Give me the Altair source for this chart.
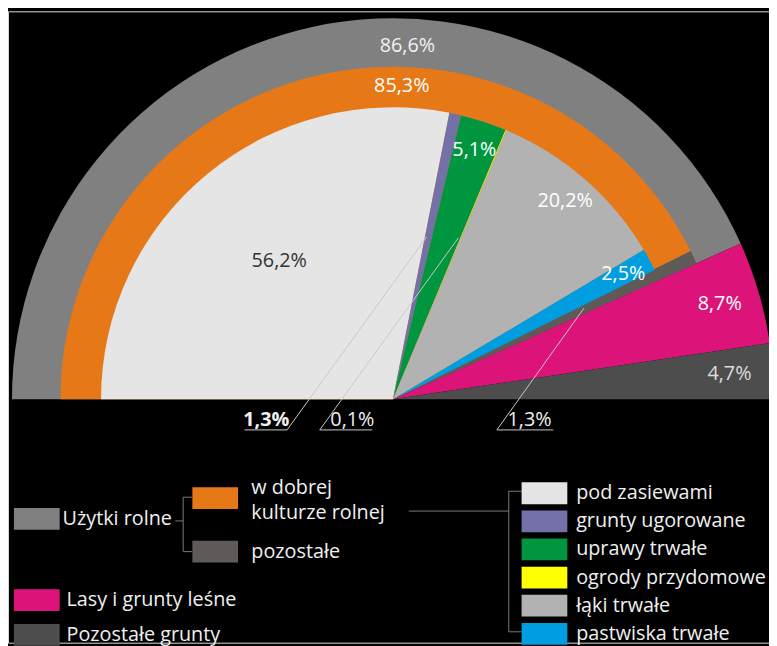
import math
import altair as alt
import pandas as pd

# ---------------- data ----------------
outer_names = ["Użytki rolne", "Lasy i grunty leśne", "Pozostałe grunty"]
outer_values = [86.6, 8.7, 4.7]
outer_colors = ["#808080", "#dc1379", "#4d4d4d"]

middle_names = ["w dobrej kulturze rolnej", "pozostałe"]
middle_values = [85.3, 1.3]
middle_colors = ["#e67817", "#5f5957"]

inner_names = ["pod zasiewami", "grunty ugorowane", "uprawy trwałe",
               "ogrody przydomowe", "łąki trwałe", "pastwiska trwałe"]
inner_values = [56.2, 1.3, 5.1, 0.1, 20.2, 2.5]
inner_colors = ["#e5e5e5", "#7470a8", "#009640", "#ffff00", "#b2b2b2", "#009de0"]

outer_df = pd.DataFrame({"name": outer_names, "value": outer_values, "idx": range(3)})
middle_df = pd.DataFrame({"name": middle_names, "value": middle_values, "idx": range(2)})
inner_df = pd.DataFrame({"name": inner_names, "value": inner_values, "idx": range(6)})

FONT = "Open Sans"
CX, CY = 389, 392          # pie centre (chart coords)
R_OUT, R_MID, R_IN = 385, 336, 295

theta_scale = alt.Scale(domain=[0, 100], range=[-math.pi / 2, math.pi / 2])
LABEL_EXPR = "replace(format(datum.value, '.1f'), '.', ',') + '%'"
SYMBOL = "M-2.1,-1H2.1V1H-2.1Z"


def stacked(df):
    return (alt.Chart(df)
            .transform_stack(stack="value", groupby=[], as_=["v0", "v1"],
                             sort=[alt.SortField("idx", order="ascending")])
            .transform_calculate(mid="(datum.v0 + datum.v1) / 2", label=LABEL_EXPR))


def legend(x, y, row_pad, offset, **kw):
    return alt.Legend(title=None, orient="none", legendX=x, legendY=y,
                      symbolType=SYMBOL, symbolSize=484, symbolStrokeWidth=0,
                      labelFont=FONT, labelFontSize=20, labelColor="#f0f0f0",
                      labelOffset=offset, rowPadding=row_pad, padding=0,
                      labelLimit=400, **kw)


def wedge(df, names, colors, r, leg, filt=None):
    base = stacked(df)
    if filt is not None:
        base = base.transform_filter(filt)
    return base.mark_arc(radius=r, radius2=0, stroke=None).encode(
        theta=alt.Theta("v0:Q", scale=theta_scale),
        theta2="v1:Q",
        color=alt.Color("name:N", scale=alt.Scale(domain=names, range=colors), legend=leg),
        x=alt.value(CX), y=alt.value(CY),
    )


uzytki = wedge(outer_df, ["Użytki rolne"], ["#808080"], R_OUT,
               legend(18.1, 502, 0, 15), alt.datum.name == "Użytki rolne")
lasy = wedge(outer_df, outer_names[1:], outer_colors[1:], R_OUT,
             legend(18.1, 584, 13, 19), alt.datum.name != "Użytki rolne")
dobra = wedge(middle_df, [middle_names[0]], [middle_colors[0]], R_MID,
              legend(198.4, 481, 0, 25.5, labelBaseline="bottom",
                     labelExpr="['w dobrej', 'kulturze rolnej']"),
              alt.datum.name == middle_names[0])
pozost = wedge(middle_df, [middle_names[1]], [middle_colors[1]], R_MID,
               legend(198.4, 535, 0, 25.5), alt.datum.name == middle_names[1])
inner = wedge(inner_df, inner_names, inner_colors, R_IN, legend(531.1, 476, 6.4, 21))


def centre_text(df, names, r, color):
    return (stacked(df)
            .transform_filter(alt.FieldOneOfPredicate(field="name", oneOf=names))
            .mark_text(font=FONT, fontSize=20, color=color, align="center", baseline="middle")
            .encode(theta=alt.Theta("mid:Q", scale=theta_scale), radius=alt.value(r),
                    text="label:N", x=alt.value(CX), y=alt.value(CY)))


t_pod = centre_text(inner_df, ["pod zasiewami"], 181, "#333333")
t_inner = centre_text(inner_df, ["uprawy trwałe", "łąki trwałe", "pastwiska trwałe"], 265, "#ffffff")
t_lasy = centre_text(outer_df, ["Lasy i grunty leśne"], 344, "#ffffff")
t_poz = centre_text(outer_df, ["Pozostałe grunty"], 341, "#dddddd")


def ring_text(df, name, pos, r, color):
    return (alt.Chart(df).transform_filter(alt.datum.name == name)
            .transform_calculate(label=LABEL_EXPR)
            .mark_text(font=FONT, fontSize=20, color=color, align="center", baseline="middle")
            .encode(theta=alt.Theta(datum=pos, scale=theta_scale), radius=alt.value(r),
                    text="label:N", x=alt.value(CX), y=alt.value(CY)))


t_uz = ring_text(outer_df, "Użytki rolne", 51.3, 357, "#f2f2f2")
t_dob = ring_text(middle_df, "w dobrej kulturze rolnej", 50.9, 317, "#ffffff")


def callout(df, name, x, y, bold=False):
    return (alt.Chart(df).transform_filter(alt.datum.name == name)
            .transform_calculate(label=LABEL_EXPR)
            .mark_text(font=FONT, fontSize=20, color="#f0f0f0", align="center", baseline="middle",
                       fontWeight="bold" if bold else "normal")
            .encode(text="label:N", x=alt.value(x), y=alt.value(y)))


c1 = callout(inner_df, "grunty ugorowane", 261, 413, bold=True)
c2 = callout(inner_df, "ogrody przydomowe", 348, 413)
c3 = callout(middle_df, "pozostałe", 527, 413)


def line(x1, y1, x2, y2, color="#c8c8c8"):
    return alt.Chart(outer_df.head(1)).mark_rule(color=color, strokeWidth=1).encode(
        x=alt.value(x1), y=alt.value(y1), x2=alt.value(x2), y2=alt.value(y2))


P = 8  # page margin offset
leaders = [
    line(247 - P, 431 - P, 290 - P, 431 - P), line(290 - P, 431 - P, 431 - P, 236 - P),
    line(323 - P, 431 - P, 376 - P, 431 - P), line(323 - P, 431 - P, 463 - P, 237 - P),
    line(502 - P, 431 - P, 559 - P, 431 - P), line(502 - P, 431 - P, 590 - P, 308 - P),
]
BR = "#7a7a7a"
brackets = [
    line(177 - P, 523 - P, 185 - P, 523 - P, BR), line(185 - P, 499 - P, 185 - P, 554 - P, BR),
    line(185 - P, 499 - P, 194 - P, 499 - P, BR), line(185 - P, 554 - P, 194 - P, 554 - P, BR),
    line(413 - P, 513 - P, 514 - P, 513 - P, BR), line(514 - P, 493 - P, 514 - P, 635 - P, BR),
    line(514 - P, 493 - P, 527 - P, 493 - P, BR), line(514 - P, 635 - P, 527 - P, 635 - P, BR),
]

chart = (alt.layer(uzytki, lasy, dobra, pozost, inner, t_pod, t_inner, t_lasy, t_poz, t_uz, t_dob,
                   c1, c2, c3, *leaders, *brackets)
         .resolve_scale(color="independent")
         .properties(width=769, height=638, autosize=alt.AutoSizeParams(type="none"),
                     padding=0, background="#000000")
         .configure_view(stroke=None)
         .configure(style={"guide-label": {"lineHeight": 25}}))

chart.save("out.html", embed_options={"renderer": "svg", "actions": False})
